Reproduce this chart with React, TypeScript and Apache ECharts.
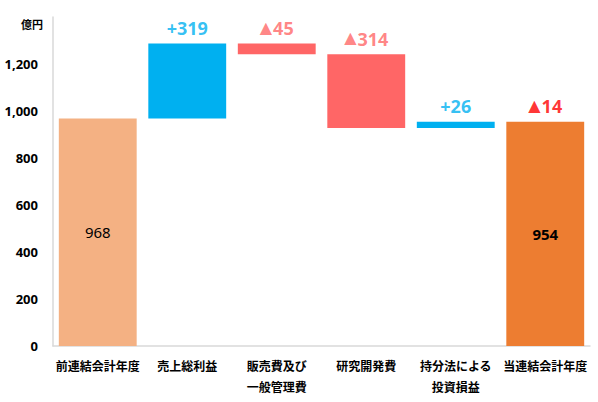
import React, { useEffect, useRef } from "react";
import * as echarts from "echarts";

const categories = [
  "前連結会計年度",
  "売上総利益",
  "販売費及び\n一般管理費",
  "研究開発費",
  "持分法による\n投資損益",
  "当連結会計年度",
];
// first and last are totals, the rest are changes
const changes = [968, 319, -45, -314, 26, 954];
const topLabels = ["", "+319", "▲45", "▲314", "+26", "▲14"];
const insideLabels = ["968", "", "", "", "", "954"];
const barColors = ["#F4B183", "#00B0F0", "#FF6666", "#FF6666", "#00B0F0", "#ED7D31"];
const topLabelColors = ["#000", "#00B0F0", "#FF6666", "#FF6666", "#00B0F0", "#FF0000"];
const yTicks = [0, 200, 400, 600, 800, 1000, 1200];

const FONT = "'Noto Sans', 'Noto Sans CJK JP', sans-serif";

export default function App() {
  const ref = useRef<HTMLDivElement>(null);
  useEffect(() => {
    document.body.style.margin = "0";
    const chart = echarts.init(ref.current!, null, { renderer: "svg" });
    const n = changes.length;
    const base: number[] = [];
    const height: number[] = [];
    const tops: number[] = [];
    let running = 0;
    changes.forEach((v, i) => {
      if (i === 0 || i === n - 1) {
        base.push(0);
        height.push(v);
        tops.push(v);
        running = v;
      } else {
        const next = running + v;
        base.push(Math.min(running, next));
        height.push(Math.abs(v));
        tops.push(Math.max(running, next));
        running = next;
      }
    });
    const fmtTop = (s: string) =>
      s.startsWith("▲") ? `{t|▲}{n|${s.slice(1)}}` : `{n|${s}}`;
    chart.setOption({
      animation: false,
      grid: { left: 53, right: 8, top: 17, bottom: 56 },
      graphic: [
        {
          type: "text",
          right: 598 - 43,
          top: 19,
          style: { text: "億円", font: `bold 11px ${FONT}`, fill: "#000" },
        },
      ],
      xAxis: {
        type: "category",
        data: categories,
        axisLine: { lineStyle: { color: "#D9D9D9", width: 1.5 } },
        axisTick: { show: false },
        axisLabel: {
          interval: 0,
          color: "#000",
          fontWeight: "bold",
          fontSize: 12,
          fontFamily: FONT,
          lineHeight: 21,
          margin: 10,
        },
      },
      yAxis: {
        type: "value",
        min: 0,
        max: 1400,
        interval: 200,
        splitLine: { show: false },
        axisLine: { show: true, lineStyle: { color: "#D9D9D9", width: 1.5 } },
        axisTick: { show: false },
        axisLabel: {
          color: "#000",
          fontWeight: "bold",
          fontSize: 13,
          fontFamily: FONT,
          margin: 15,
          formatter: (v: number) =>
            yTicks.includes(v) ? v.toLocaleString("en-US") : "",
        },
      },
      series: [
        {
          type: "bar",
          stack: "w",
          data: base,
          itemStyle: { color: "transparent" },
          silent: true,
        },
        {
          type: "bar",
          stack: "w",
          barCategoryGap: "13%",
          data: height.map((h, i) => ({
            value: h,
            itemStyle: { color: barColors[i] },
            label: {
              show: insideLabels[i] !== "",
              position: "inside",
              formatter: insideLabels[i],
              color: "#000",
              fontSize: 15,
              fontFamily: FONT,
              fontWeight: i === n - 1 ? "bold" : "normal",
            },
          })),
        },
        {
          type: "scatter",
          symbolSize: 1,
          itemStyle: { color: "transparent" },
          data: tops.map((t, i) => ({
            value: topLabels[i] ? t : null,
            label: {
              show: topLabels[i] !== "",
              position: "top",
              distance: 6,
              formatter: fmtTop(topLabels[i]),
              rich: {
                t: {
                  color: topLabelColors[i],
                  fontSize: 16,
                  fontFamily: "'DejaVu Sans', sans-serif",
                  padding: [0, 1, 2, 0],
                },
                n: {
                  color: topLabelColors[i],
                  fontSize: 18,
                  fontWeight: "bold",
                  fontFamily: FONT,
                },
              },
            },
          })),
        },
      ],
    });
    return () => chart.dispose();
  }, []);
  return <div ref={ref} style={{ width: 598, height: 402 }} />;
}
